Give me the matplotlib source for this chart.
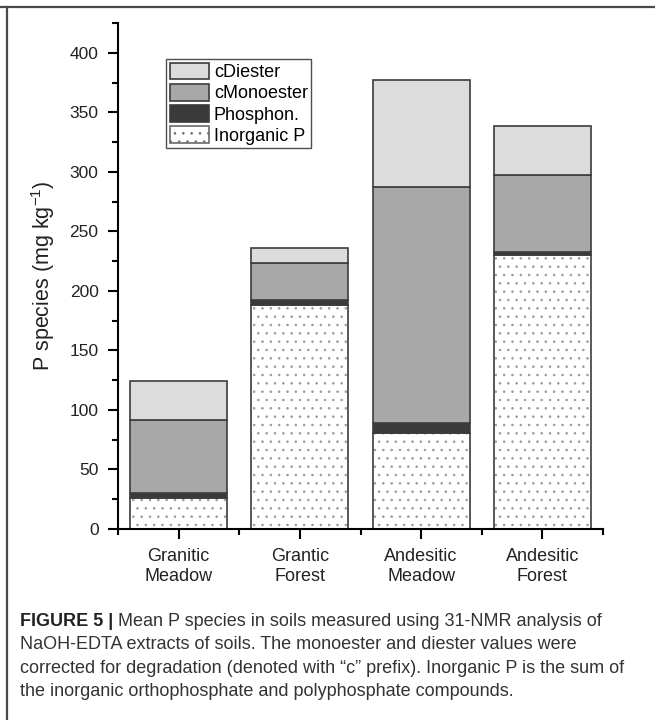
import numpy as np
import matplotlib
matplotlib.use("Agg")
import matplotlib.pyplot as plt
from matplotlib.patches import Patch
from matplotlib.lines import Line2D

plt.rcParams['font.family'] = ['Liberation Sans', 'DejaVu Sans']
plt.rcParams['mathtext.default'] = 'regular'
plt.rcParams['hatch.linewidth'] = 0.6

sites = ["Granitic\nMeadow", "Grantic\nForest", "Andesitic\nMeadow", "Andesitic\nForest"]
inorganic = [26, 188.5, 81, 230]
phosphon = [4.5, 4, 8, 2.5]
monoester = [61, 31, 198, 65]
diester = [33, 12.5, 90, 41]

caption_bold = "FIGURE 5 |"
caption_lines = [
    " Mean P species in soils measured using 31-NMR analysis of",
    "NaOH-EDTA extracts of soils. The monoester and diester values were",
    "corrected for degradation (denoted with \u201cc\u201d prefix). Inorganic P is the sum of",
    "the inorganic orthophosphate and polyphosphate compounds.",
]

fig = plt.figure(figsize=(6.55, 7.2), dpi=100)
ax = fig.add_axes([118 / 655, 1 - 529 / 720, 485 / 655, 506 / 720])

x = np.arange(1, len(sites) + 1)
w = 0.8
edge = '#3c3c3c'

inorg = np.array(inorganic)
phos = np.array(phosphon)
mono = np.array(monoester)
dies = np.array(diester)

# dotted inorganic part, outline drawn separately so the dots stay grey
ax.bar(x, inorg, w, color='white', hatch='..', edgecolor='#9a9a9a', linewidth=0)
ax.bar(x, inorg, w, fill=False, edgecolor=edge, linewidth=1.2)
ax.bar(x, phos, w, bottom=inorg, color='#3a3a3a', edgecolor=edge, linewidth=1.2)
ax.bar(x, mono, w, bottom=inorg + phos, color='#a8a8a8', edgecolor=edge, linewidth=1.2)
ax.bar(x, dies, w, bottom=inorg + phos + mono, color='#dcdcdc', edgecolor=edge, linewidth=1.2)

ax.set_xlim(0.5, 4.5)
ax.set_ylim(0, 425)
ax.set_xticks(x)
ax.set_xticklabels(sites, fontsize=13, linespacing=1.2, color='#222222')
ax.set_xticks(np.arange(0.5, 4.6, 1), minor=True)
ax.set_yticks(np.arange(0, 401, 50))
ax.set_yticks(np.arange(25, 426, 50), minor=True)
ax.tick_params(axis='y', which='major', length=7, width=1.5, labelsize=12.5, pad=7, labelcolor='#222222')
ax.tick_params(axis='y', which='minor', length=4, width=1.5)
ax.tick_params(axis='x', which='major', length=7, width=1.5, pad=7)
ax.tick_params(axis='x', which='minor', length=4, width=1.5)
for s in ['top', 'right']:
    ax.spines[s].set_visible(False)
for s in ['left', 'bottom']:
    ax.spines[s].set_linewidth(1.5)

ax.set_ylabel("P species (mg kg$^{-1}$)", fontsize=15.5, color='#222222')
ax.yaxis.set_label_coords(-0.125, 0.5)

handles = [
    Patch(facecolor='#dcdcdc', edgecolor=edge, linewidth=1.2),
    Patch(facecolor='#a8a8a8', edgecolor=edge, linewidth=1.2),
    Patch(facecolor='#3a3a3a', edgecolor=edge, linewidth=1.2),
    Patch(facecolor='white', edgecolor='#6a6a6a', hatch='..', linewidth=1.2),
]
labels = ["cDiester", "cMonoester", "Phosphon.", "Inorganic P"]
leg = ax.legend(handles, labels, loc='upper left', bbox_to_anchor=(0.099, 0.929),
                fontsize=13, frameon=True, fancybox=False, shadow=False,
                handlelength=2.2, handleheight=1.05, handletextpad=0.25,
                labelspacing=0.15, borderpad=0.2, borderaxespad=0)
leg.get_frame().set_edgecolor('#222222')
leg.get_frame().set_linewidth(1.0)

# frame around the figure panel (top and left only, as cropped)
fig.add_artist(Line2D([0, 1], [1 - 6.5 / 720] * 2, transform=fig.transFigure, color='#4a4a4a', lw=1.6))
fig.add_artist(Line2D([7 / 655] * 2, [0, 1 - 6.5 / 720], transform=fig.transFigure, color='#4a4a4a', lw=1.6))

# caption
cap_x = 20 / 655
y0 = 1 - 621 / 720
dy = 23.6 / 720
t = fig.text(cap_x, y0, caption_bold, fontsize=13, fontweight='bold', va='center', color='#222222')
fig.canvas.draw()
bb = t.get_window_extent(fig.canvas.get_renderer())
fig.text(bb.x1 / fig.bbox.width, y0, caption_lines[0], fontsize=13, va='center', color='#333333')
for i, line in enumerate(caption_lines[1:], start=1):
    fig.text(cap_x, y0 - i * dy, line, fontsize=13, va='center', color='#333333')

fig.savefig("out.png", dpi=100)
